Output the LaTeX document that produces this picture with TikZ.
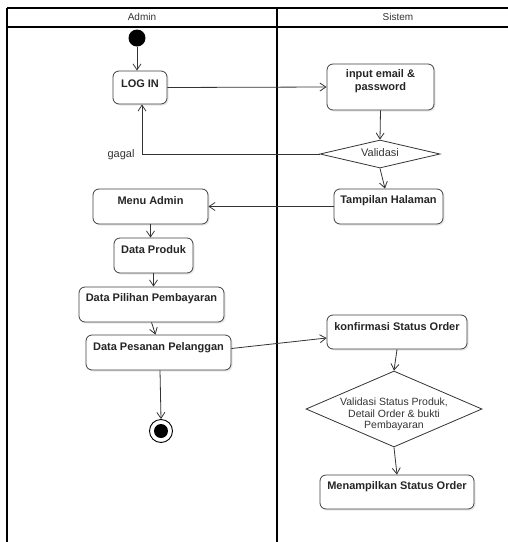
\documentclass[tikz,border=0pt]{standalone}
\usepackage{fontspec}
\setmainfont{Liberation Sans}
\usetikzlibrary{arrows.meta,shapes.geometric,shadows}
\begin{document}
\begin{tikzpicture}[x=1pt,y=-1pt,
  lane/.style={line width=1.4pt,draw=black},
  act/.style={draw=black!75,line width=0.8pt,rounded corners=6pt,fill=white,
    drop shadow={opacity=0.18,shadow xshift=1.5pt,shadow yshift=-1.5pt},
    inner sep=0pt},
  dec/.style={draw=black!80,line width=0.8pt,diamond,fill=white,inner sep=0pt},
  txt/.style={font=\bfseries\fontsize{11}{13}\selectfont,text=black!85,inner sep=0pt,align=center},
  ntxt/.style={font=\fontsize{11}{13}\selectfont,text=black!80,inner sep=0pt,align=center},
  hdr/.style={font=\fontsize{10}{12}\selectfont,text=black!80,inner sep=0pt},
  flow/.style={draw=black!80,line width=0.8pt,-{Straight Barb[length=6pt,width=8pt]}}]
\useasboundingbox (0,0) rectangle (508,542);
% swimlanes
\draw[lane] (7,8) -- (508,8);
\draw[lane] (7,27) -- (508,27);
\draw[lane] (7,8) -- (7,542);
\draw[lane] (277,8) -- (277,542);
\node[hdr] (hA) at (142,17) {Admin};
\node[hdr] (hS) at (398,17) {Sistem};
% nodes
\node[circle,fill=black,minimum size=17pt,inner sep=0pt] (start) at (137,38) {};
\node[act,minimum width=54pt,minimum height=33pt] (login) at (140,87.5) {};
\node[txt] (tlogin) at (140,84) {LOG IN};
\node[act,minimum width=107pt,minimum height=46pt] (input) at (380.5,87) {};
\node[txt] (tinput) at (380.5,81.5) {input email \&\\password};
\node[dec,minimum width=120pt,minimum height=28pt] (val1) at (380,154) {};
\node[ntxt] (tval1) at (380,152.5) {Validasi};
\node[act,minimum width=109pt,minimum height=35pt] (tamp) at (388.5,206.5) {};
\node[txt] (ttamp) at (388.5,201) {Tampilan Halaman};
\node[act,minimum width=115pt,minimum height=35pt] (menu) at (150.5,206.5) {};
\node[txt] (tmenu) at (150.5,201) {Menu Admin};
\node[act,minimum width=79pt,minimum height=35pt] (prod) at (153.5,255.5) {};
\node[txt] (tprod) at (153.5,249.5) {Data Produk};
\node[act,minimum width=145pt,minimum height=35pt] (pilih) at (151.5,304.5) {};
\node[txt] (tpilih) at (151.5,298.5) {Data Pilihan Pembayaran};
\node[act,minimum width=145pt,minimum height=35pt] (pesan) at (158.5,352.5) {};
\node[txt] (tpesan) at (158.5,347.5) {Data Pesanan Pelanggan};
\node[act,minimum width=140pt,minimum height=34pt] (konf) at (397,332) {};
\node[txt] (tkonf) at (397,326.5) {konfirmasi Status Order};
\node[dec,minimum width=176pt,minimum height=76pt] (val2) at (394,409) {};
\node[ntxt,font=\fontsize{10.5}{11.5}\selectfont] (tval2) at (394,414.5) {Validasi Status Produk,\\Detail Order \& bukti\\Pembayaran};
\node[act,minimum width=154pt,minimum height=34pt] (menam) at (397,492) {};
\node[txt] (tmenam) at (397,486.5) {Menampilkan Status Order};
\node[circle,draw=black,line width=0.9pt,fill=white,minimum size=23pt,inner sep=0pt] (end) at (161,431) {};
\node[circle,fill=black,minimum size=14pt,inner sep=0pt] (endin) at (161,431) {};
\node[ntxt] (gagal) at (121,155) {gagal};
% connectors
\draw[flow] (start) -- (start |- login.north);
\draw[flow] (login.east) -- (input.west);
\draw[flow] (input.south) -- (val1.north);
\draw[flow] (val1.west) -| ([xshift=2pt]login.south);
\draw[flow] (val1.south) -- ([xshift=-3.5pt]tamp.north);
\draw[flow] (tamp.west) -- (menu.east);
\draw[flow] (menu.south) -- (menu.south |- prod.north);
\draw[flow] (prod.south) -- (prod.south |- pilih.north);
\draw[flow] (pilih.south) -- ([xshift=-3pt]pesan.north);
\draw[flow] ([yshift=4pt]pesan.east) -- ([yshift=-6pt]konf.west);
\draw[flow] (konf.south) -- (val2.north);
\draw[flow] (val2.south) -- (menam.north);
\draw[flow] ([xshift=1.5pt]pesan.south) -- (end.north);
\end{tikzpicture}
\end{document}
